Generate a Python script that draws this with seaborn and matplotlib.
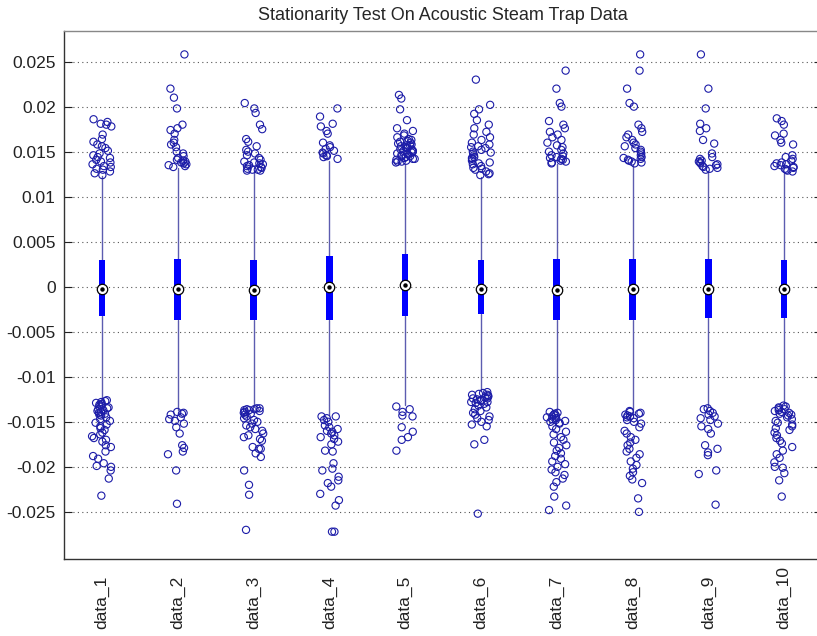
import numpy as np
import pandas as pd
import matplotlib
matplotlib.use("Agg")
import matplotlib.pyplot as plt
import matplotlib.transforms as mtransforms
import seaborn as sns

# ---------------------------------------------------------------
# data
# ---------------------------------------------------------------
labels = ["data_%d" % i for i in range(1, 11)]

medians = [-0.0002, -0.0002, -0.0004, 0.0000, 0.0002,
           -0.0002, -0.0004, -0.0002, -0.0002, -0.0002]
q1 = [-0.0033, -0.0037, -0.0037, -0.0037, -0.0033,
      -0.0030, -0.0037, -0.0037, -0.0035, -0.0035]
q3 = [0.0030, 0.0031, 0.0030, 0.0034, 0.0036,
      0.0030, 0.0031, 0.0031, 0.0031, 0.0030]
whisk_lo = [-0.0125, -0.0137, -0.0134, -0.0142, -0.0131,
            -0.0115, -0.0137, -0.0136, -0.0134, -0.0130]
whisk_hi = [0.0123, 0.0132, 0.0128, 0.0140, 0.0136,
            0.0122, 0.0136, 0.0135, 0.0129, 0.0127]

# outliers (upper and lower tails)
out_1 = [0.0186, 0.0183, 0.0181, 0.0180, 0.0178, 0.0169, 0.0164, 0.0161, 0.0158,
         0.0156, 0.0154, 0.0151, 0.0148, 0.0146, 0.0144, 0.0143, 0.0141, 0.0139,
         0.0138, 0.0136, 0.0134, 0.0133, 0.0131, 0.0130, 0.0128, 0.0126, 0.0124,
         -0.0126, -0.0127, -0.0128, -0.0129, -0.0130, -0.0131, -0.0132, -0.0133,
         -0.0134, -0.0135, -0.0136, -0.0137, -0.0138, -0.0139, -0.0140, -0.0141,
         -0.0142, -0.0143, -0.0145, -0.0147, -0.0149, -0.0151, -0.0153, -0.0155,
         -0.0157, -0.0159, -0.0162, -0.0164, -0.0166, -0.0168, -0.0170, -0.0172,
         -0.0176, -0.0178, -0.0183, -0.0188, -0.0191, -0.0196, -0.0199, -0.0200,
         -0.0204, -0.0213, -0.0232]
out_2 = [0.0258, 0.0220, 0.0210, 0.0198, 0.0180, 0.0176, 0.0174, 0.0170, 0.0163,
         0.0160, 0.0158, 0.0155, 0.0150, 0.0148, 0.0145, 0.0143, 0.0141, 0.0140,
         0.0139, 0.0138, 0.0137, 0.0136, 0.0135, 0.0134, 0.0133,
         -0.0139, -0.0140, -0.0141, -0.0142, -0.0145, -0.0147, -0.0149, -0.0152,
         -0.0156, -0.0163, -0.0176, -0.0179, -0.0183, -0.0186, -0.0204, -0.0241]
out_3 = [0.0204, 0.0198, 0.0193, 0.0180, 0.0175, 0.0164, 0.0161, 0.0156, 0.0152,
         0.0150, 0.0148, 0.0146, 0.0143, 0.0141, 0.0139, 0.0138, 0.0137, 0.0136,
         0.0135, 0.0134, 0.0133, 0.0132, 0.0131, 0.0130, 0.0130, 0.0129, 0.0129,
         -0.0135, -0.0135, -0.0136, -0.0136, -0.0137, -0.0137, -0.0138, -0.0139,
         -0.0140, -0.0141, -0.0142, -0.0144, -0.0146, -0.0148, -0.0150, -0.0152,
         -0.0154, -0.0156, -0.0158, -0.0160, -0.0163, -0.0165, -0.0167, -0.0169,
         -0.0171, -0.0178, -0.0180, -0.0180, -0.0185, -0.0189, -0.0204, -0.0220,
         -0.0231, -0.0270]
out_4 = [0.0198, 0.0189, 0.0181, 0.0178, 0.0173, 0.0170, 0.0160, 0.0157, 0.0155,
         0.0153, 0.0151, 0.0149, 0.0148, 0.0146, 0.0145, 0.0144, 0.0142,
         -0.0144, -0.0144, -0.0146, -0.0148, -0.0150, -0.0154, -0.0156, -0.0158,
         -0.0160, -0.0161, -0.0163, -0.0165, -0.0167, -0.0169, -0.0172, -0.0175,
         -0.0182, -0.0183, -0.0196, -0.0202, -0.0204, -0.0211, -0.0215, -0.0218,
         -0.0222, -0.0230, -0.0237, -0.0243, -0.0272, -0.0272]
out_5 = [0.0213, 0.0209, 0.0197, 0.0185, 0.0176, 0.0173, 0.0170, 0.0168, 0.0166,
         0.0164, 0.0163, 0.0162, 0.0161, 0.0160, 0.0159, 0.0158, 0.0157, 0.0156,
         0.0155, 0.0154, 0.0153, 0.0152, 0.0151, 0.0150, 0.0149, 0.0148, 0.0147,
         0.0146, 0.0145, 0.0144, 0.0143, 0.0142, 0.0141, 0.0140, 0.0139, 0.0138,
         0.0157, 0.0154, 0.0151, 0.0148, 0.0145, 0.0142, 0.0139,
         -0.0133, -0.0136, -0.0139, -0.0143, -0.0144, -0.0156, -0.0161, -0.0167,
         -0.0170, -0.0182]
out_6 = [0.0230, 0.0202, 0.0197, 0.0192, 0.0185, 0.0180, 0.0176, 0.0172, 0.0169,
         0.0166, 0.0163, 0.0160, 0.0158, 0.0156, 0.0154, 0.0152, 0.0150, 0.0148,
         0.0146, 0.0144, 0.0142, 0.0140, 0.0138, 0.0136, 0.0134, 0.0132, 0.0130,
         0.0128, 0.0126, 0.0124, 0.0155, 0.0149, 0.0143, 0.0137, 0.0131, 0.0125,
         -0.0117, -0.0118, -0.0119, -0.0120, -0.0121, -0.0122, -0.0123, -0.0124,
         -0.0125, -0.0126, -0.0127, -0.0128, -0.0129, -0.0130, -0.0132, -0.0134,
         -0.0136, -0.0138, -0.0140, -0.0142, -0.0144, -0.0146, -0.0148, -0.0150,
         -0.0153, -0.0155, -0.0120, -0.0124, -0.0128, -0.0170, -0.0175, -0.0252]
out_7 = [0.0240, 0.0220, 0.0204, 0.0200, 0.0184, 0.0180, 0.0176, 0.0172, 0.0169,
         0.0166, 0.0163, 0.0160, 0.0157, 0.0155, 0.0152, 0.0150, 0.0148, 0.0146,
         0.0145, 0.0144, 0.0143, 0.0142, 0.0141, 0.0140, 0.0139, 0.0138, 0.0137,
         -0.0139, -0.0140, -0.0141, -0.0142, -0.0143, -0.0144, -0.0145, -0.0146,
         -0.0147, -0.0148, -0.0149, -0.0150, -0.0151, -0.0152, -0.0155, -0.0158,
         -0.0161, -0.0164, -0.0167, -0.0170, -0.0173, -0.0176, -0.0179, -0.0182,
         -0.0185, -0.0188, -0.0191, -0.0194, -0.0197, -0.0200, -0.0203, -0.0206,
         -0.0209, -0.0213, -0.0217, -0.0222, -0.0233, -0.0243, -0.0248]
out_8 = [0.0258, 0.0240, 0.0220, 0.0204, 0.0200, 0.0180, 0.0176, 0.0172, 0.0169,
         0.0166, 0.0163, 0.0160, 0.0158, 0.0156, 0.0154, 0.0152, 0.0150, 0.0148,
         0.0146, 0.0144, 0.0143, 0.0142, 0.0141, 0.0140, 0.0139, 0.0138, 0.0137,
         -0.0138, -0.0139, -0.0140, -0.0141, -0.0142, -0.0143, -0.0144, -0.0145,
         -0.0146, -0.0148, -0.0150, -0.0152, -0.0156, -0.0160, -0.0163, -0.0167,
         -0.0170, -0.0173, -0.0176, -0.0180, -0.0183, -0.0186, -0.0190, -0.0194,
         -0.0198, -0.0202, -0.0206, -0.0210, -0.0214, -0.0218, -0.0235, -0.0250]
out_9 = [0.0258, 0.0220, 0.0198, 0.0181, 0.0176, 0.0173, 0.0163, 0.0159, 0.0148,
         0.0144, 0.0142, 0.0140, 0.0139, 0.0138, 0.0137, 0.0136, 0.0135, 0.0134,
         0.0133, 0.0132, 0.0131, 0.0130,
         -0.0135, -0.0136, -0.0138, -0.0140, -0.0142, -0.0144, -0.0146, -0.0148,
         -0.0152, -0.0155, -0.0158, -0.0163, -0.0176, -0.0180, -0.0184, -0.0187,
         -0.0204, -0.0208, -0.0242]
out_10 = [0.0187, 0.0184, 0.0180, 0.0170, 0.0168, 0.0163, 0.0160, 0.0158, 0.0146,
          0.0144, 0.0142, 0.0140, 0.0138, 0.0137, 0.0136, 0.0135, 0.0134, 0.0133,
          0.0132, 0.0131, 0.0130, 0.0129, 0.0128,
          -0.0132, -0.0133, -0.0134, -0.0135, -0.0136, -0.0137, -0.0138, -0.0139,
          -0.0140, -0.0141, -0.0142, -0.0143, -0.0145, -0.0147, -0.0149, -0.0151,
          -0.0153, -0.0155, -0.0157, -0.0159, -0.0162, -0.0165, -0.0168, -0.0171,
          -0.0174, -0.0178, -0.0182, -0.0186, -0.0190, -0.0195, -0.0200, -0.0201,
          -0.0207, -0.0215, -0.0233]
outliers = [out_1, out_2, out_3, out_4, out_5, out_6, out_7, out_8, out_9, out_10]

yticks = [0.025, 0.02, 0.015, 0.01, 0.005, 0, -0.005, -0.01, -0.015, -0.02, -0.025]

# ---------------------------------------------------------------
# figure
# ---------------------------------------------------------------
sns.set_style("white")
plt.rcParams["font.family"] = ["Liberation Sans", "DejaVu Sans"]

W, H = 817, 636
fig = plt.figure(figsize=(W / 100, H / 100), dpi=100)
ax = fig.add_axes([64 / W, 1 - 558.7 / H, 758 / W, (558.7 - 31) / H])

df = pd.DataFrame({
    "group": [lab for lab, vals in zip(labels, outliers) for _ in vals],
    "value": [v for vals in outliers for v in vals],
})

np.random.seed(7)  # jitter only
sns.stripplot(data=df, x="group", y="value", order=labels, ax=ax,
              jitter=0.13, size=5.2, color="#1c1ca8", facecolor="none",
              edgecolor="#1c1ca8", linewidth=0.8, zorder=3)
for c in ax.collections:
    c.set_facecolor("none")

# compact box: thick box, thin whiskers, no caps
stats = [dict(med=m, q1=a, q3=b, whislo=lo, whishi=hi, fliers=[])
         for m, a, b, lo, hi in zip(medians, q1, q3, whisk_lo, whisk_hi)]
pos = np.arange(len(labels))
ax.bxp(stats, positions=pos, widths=0.085, patch_artist=True,
       showcaps=False, showfliers=False, manage_ticks=False,
       boxprops=dict(facecolor="#0000ff", edgecolor="#0000ff", linewidth=0),
       whiskerprops=dict(color="#5c5cb0", linewidth=1.0),
       medianprops=dict(linewidth=0))
for c in ax.patches:
    c.set_zorder(2.5)

# median marker: white circle with black dot
ax.plot(pos, medians, "o", ms=7.5, mfc="white", mec="black", mew=0.9, zorder=4)
ax.plot(pos, medians, "o", ms=2.2, mfc="black", mec="black", zorder=5)

ax.set_xlim(-0.5, 9.5)
ax.set_ylim(-0.0302, 0.0284)
ax.set_yticks(yticks)
ax.set_yticklabels(["%g" % t for t in yticks])
ax.set_xticks(pos)
ax.set_xticklabels([])
ax.set_xlabel("")
ax.set_ylabel("")

# rotated category labels, bottom-aligned near the figure edge
trans = mtransforms.blended_transform_factory(ax.transData, fig.transFigure)
for p, lab in zip(pos, labels):
    ax.text(p, 7 / H, lab, transform=trans, rotation=90, ha="center",
            va="bottom", fontsize=12.5, color="#222222")

ax.yaxis.grid(True, linestyle=(0, (1, 3)), color="#555555", linewidth=0.8)
ax.xaxis.grid(False)
ax.tick_params(axis="y", direction="in", length=6, width=0.8,
               left=True, right=True, labelsize=12.5, pad=6, colors="#222222")
ax.tick_params(axis="x", length=0)
for s in ax.spines.values():
    s.set_color("#333333")
    s.set_linewidth(1.0)
ax.spines["top"].set_color("#888888")

ax.set_title("Stationarity Test On Acoustic Steam Trap Data", fontsize=13, pad=8)

fig.savefig("out.png", dpi=100)
